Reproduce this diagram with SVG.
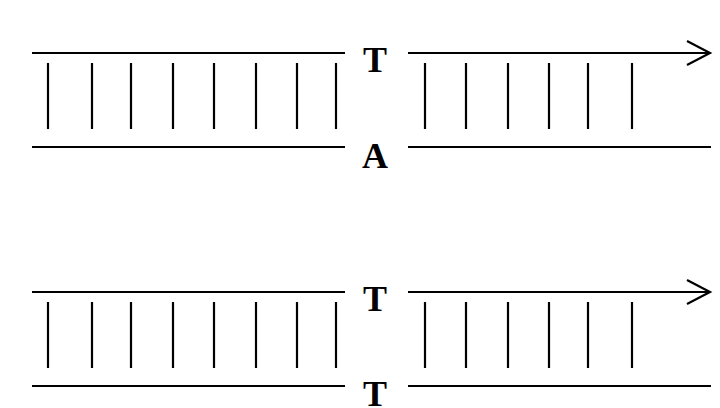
<svg xmlns="http://www.w3.org/2000/svg" width="720" height="408" viewBox="0 0 720 408">
  <style>
    .strand { stroke: #000; stroke-width: 2.2; fill: none; }
    .rung { stroke: #000; stroke-width: 2.2; }
    .base { font-family: "Liberation Serif", "Times New Roman", serif; font-weight: bold; font-size: 36px; fill: #000; text-anchor: middle; }
  </style>
  <defs>
    <!-- one DNA duplex: two strands, rungs and an open chevron at the end of the upper strand -->
    <g id="duplex">
      <path class="strand" d="M32 53 H345 M408 53 H710 M32 147 H345 M408 147 H711"/>
      <path class="strand" d="M687 41 L710 53 L687 65"/>
      <path class="rung" d="M48 63 V129 M92 63 V129 M131 63 V129 M173 63 V129 M214 63 V129 M256 63 V129 M297 63 V129 M336 63 V129 M425 63 V129 M466 63 V129 M508 63 V129 M549 63 V129 M588 63 V129 M632 63 V129"/>
    </g>
  </defs>

  <g id="connectors">
    <use href="#duplex"/>
    <use href="#duplex" transform="translate(0,239)"/>
  </g>

  <g id="pair-TA">
    <text class="base" x="375" y="72">T</text>
    <text class="base" x="375" y="168">A</text>
  </g>

  <g id="pair-TT">
    <text class="base" x="375" y="311">T</text>
    <text class="base" x="375" y="406">T</text>
  </g>
</svg>
